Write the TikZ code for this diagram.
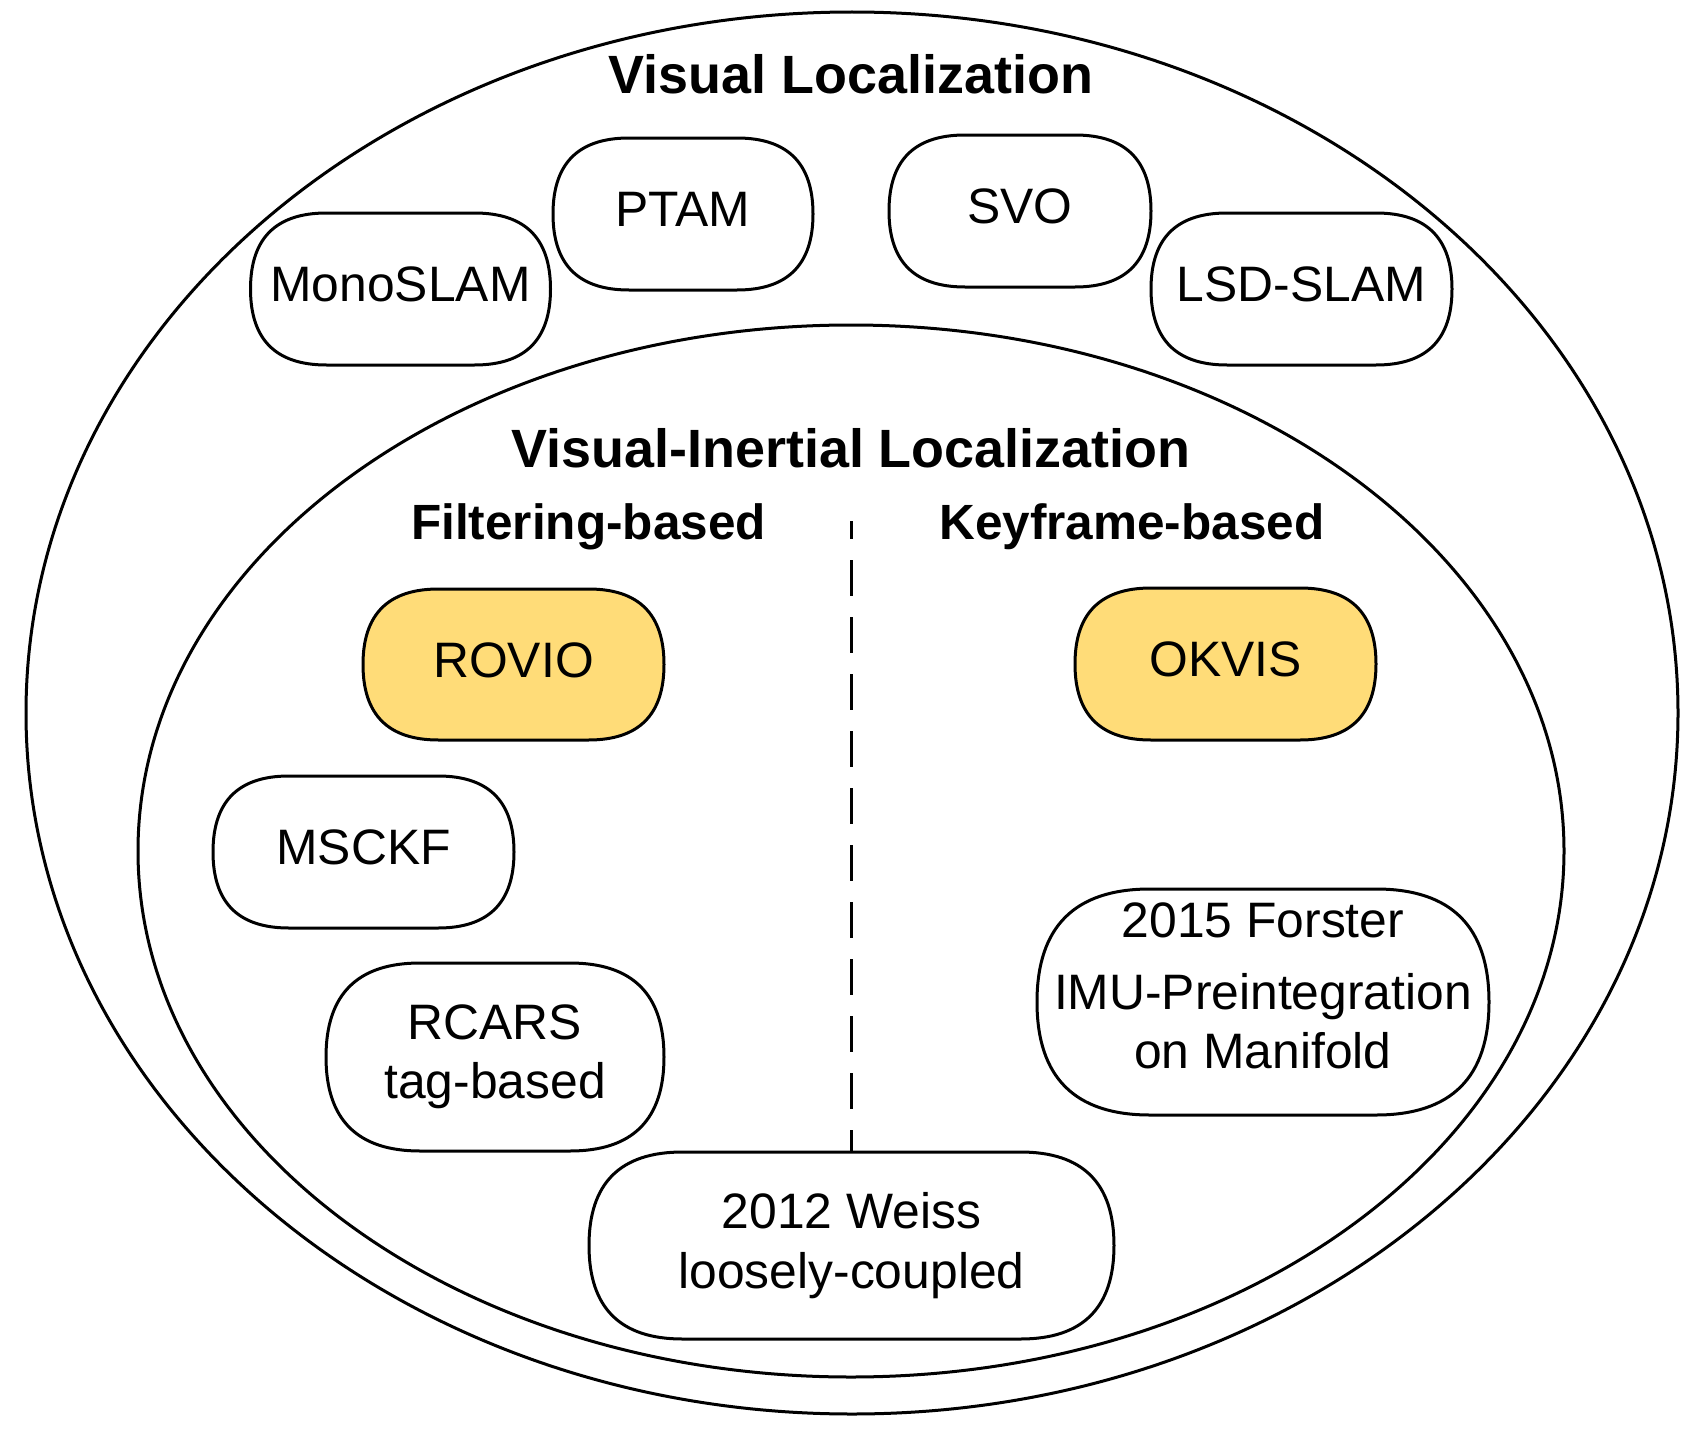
\documentclass[tikz,border=0pt]{standalone}
\usepackage{fontspec}
\setmainfont{Liberation Sans}
\definecolor{pillyellow}{HTML}{FFDC78}
\tikzset{
  pillline/.style={draw=black, line width=3pt, line join=round},
  pilltext/.style={align=center, inner sep=0pt, text=black,
    font=\fontsize{49.8}{59.4}\selectfont},
  bigtitle/.style={anchor=base, inner sep=0pt, font=\fontsize{53.9}{64}\selectfont\bfseries},
  subtitle/.style={anchor=base, inner sep=0pt, font=\fontsize{49.5}{59}\selectfont\bfseries},
  region/.style={draw=black, line width=3pt},
  divider/.style={draw=black, line width=2.5pt, dash pattern=on 36pt off 21pt, dash phase=18pt}
}
\newcommand\sst{\rule[-10pt]{0pt}{45pt}}
% #1 fill, #2 name, #3 cx, #4 cy, #5 w, #6 h, #7 text
\newcommand\pill[7][white]{%
  \pgfmathsetmacro\pw{#5/2}%
  \pgfmathsetmacro\ph{#6/2}%
  \pgfmathsetmacro\pk{#6/6}%
  \pgfmathsetmacro\pa{\pw-\ph}%
  \pgfmathsetmacro\pb{\pw-\pk}%
  \pgfmathsetmacro\pc{\ph-\pk}%
  \draw[pillline, fill=#1, shift={(#3,#4)}] (-\pw,0)
    .. controls (-\pw,-\pc) and (-\pb,-\ph) .. (-\pa,-\ph) -- (\pa,-\ph)
    .. controls (\pb,-\ph) and (\pw,-\pc) .. (\pw,0)
    .. controls (\pw,\pc) and (\pb,\ph) .. (\pa,\ph) -- (-\pa,\ph)
    .. controls (-\pb,\ph) and (-\pw,\pc) .. cycle;
  \node[pilltext, minimum width=#5pt, minimum height=#6pt] (#2) at (#3,#4) {#7};
}
\begin{document}
\begin{tikzpicture}[x=1pt, y=-1pt]
\useasboundingbox (0,0) rectangle (1701,1445);
\fill[white] (0,0) rectangle (1701,1445);

% regions
\draw[region] (852,713) ellipse [x radius=826pt, y radius=701pt];
\draw[region] (851,851) ellipse [x radius=713pt, y radius=526pt];

% titles
\node[bigtitle] (vl) at (851,94) {Visual Localization};
\node[bigtitle] (vil) at (851,467.5) {Visual-Inertial Localization};
\node[subtitle] (filt) at (588.6,539.5) {Filtering-based};
\node[subtitle] (key) at (1132,539.5) {Keyframe-based};

% visual localization methods
\pill{mono}{400.5}{289}{300}{152}{\sst MonoSLAM}
\pill{ptam}{683}{214}{260}{152}{\sst PTAM}
\pill{svo}{1020}{211}{262}{152}{\sst SVO}
\pill{lsd}{1301.5}{289}{301}{152}{\sst LSD-SLAM}

% filtering-based
\pill[pillyellow]{rovio}{513.5}{664.5}{301}{151}{\sst ROVIO}
\pill{msckf}{363.5}{852}{301}{152}{\sst MSCKF}
\pill{rcars}{495}{1057}{338}{188}{RCARS\\tag-based}

% keyframe-based
\pill[pillyellow]{okvis}{1225.5}{664}{301}{152}{\sst OKVIS}
\pill{forster}{1263}{1002}{452}{226}{2015 Forster\\[12pt]IMU-Preintegration\\on Manifold\rule[-32pt]{0pt}{32pt}}

% loosely coupled
\pill{weiss}{851.5}{1245.5}{525}{187}{2012 Weiss\\loosely-coupled}

% divider
\coordinate (divtop) at (851.5,521);
\draw[divider] (divtop) -- (weiss.north);
\end{tikzpicture}
\end{document}
